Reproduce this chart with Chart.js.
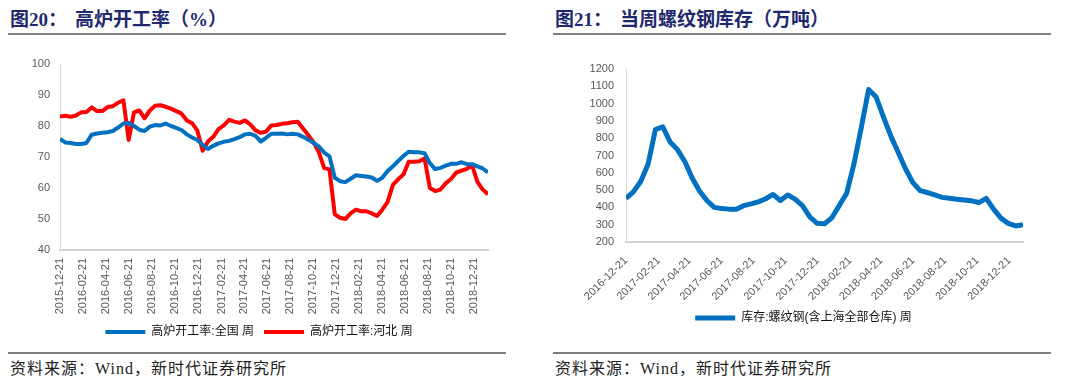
<!DOCTYPE html>
<html>
<head>
<meta charset="utf-8">
<script src="https://cdn.jsdelivr.net/npm/chart.js@4.4.0/dist/chart.umd.min.js"></script>
<style>
body { margin: 0; background: #fff; width: 1080px; height: 388px; position: relative; overflow: hidden; }
.title { position: absolute; top: 10px; font-family: "Liberation Serif", "Noto Sans CJK SC", serif; font-weight: 700; font-size: 19px; line-height: 20px; color: #1f2a6e; white-space: nowrap; }
.title span { margin-left: 8px; }
.rule { position: absolute; height: 2px; background: #808080; }
.src { position: absolute; top: 360px; font-family: "Liberation Serif", "Noto Sans CJK SC", serif; font-size: 16px; line-height: 18px; color: #222; letter-spacing: 1px; white-space: nowrap; }
canvas { position: absolute; }
</style>
</head>
<body>
<div class="title" style="left:10px">图20：<span>高炉开工率（%）</span></div>
<div class="rule" style="left:8px; width:498px; top:33px"></div>
<div class="title" style="left:555px">图21：<span>当周螺纹钢库存（万吨）</span></div>
<div class="rule" style="left:553px; width:498px; top:33px"></div>

<canvas id="gaoluChart" width="540" height="304" style="left:0; top:44px"></canvas>
<canvas id="kucunChart" width="540" height="290" style="left:540px; top:44px"></canvas>

<div class="rule" style="left:8px; width:498px; top:352px"></div>
<div class="rule" style="left:553px; width:498px; top:352px"></div>
<div class="src" style="left:10px">资料来源：Wind，新时代证券研究所</div>
<div class="src" style="left:555px">资料来源：Wind，新时代证券研究所</div>

<script>
// 每两周取一个点（周数据读图估计）
var stepWeeks = 2;

// 图20 高炉开工率
var gaoluStart = '2015-12-21';
var gaoluTicks = ['2015-12-21', '2016-02-21', '2016-04-21', '2016-06-21', '2016-08-21', '2016-10-21', '2016-12-21',
    '2017-02-21', '2017-04-21', '2017-06-21', '2017-08-21', '2017-10-21', '2017-12-21',
    '2018-02-21', '2018-04-21', '2018-06-21', '2018-08-21', '2018-10-21', '2018-12-21'];
var quanguo = [75.8, 74.7, 74.5, 74.2, 74.2, 74.5, 77.2, 77.6, 77.8, 78.0,
    78.4, 79.5, 80.8, 81.0, 80.0, 78.8, 78.4, 79.8, 80.3, 80.2,
    80.8, 80.0, 79.4, 78.7, 77.3, 76.3, 75.5, 73.9, 72.6, 73.6,
    74.4, 74.9, 75.2, 75.8, 76.4, 77.3, 77.5, 76.8, 75.0, 76.2,
    77.5, 77.5, 77.6, 77.3, 77.5, 77.3, 76.5, 75.6, 74.5, 73.4,
    71.4, 70.2, 63.3, 62.2, 61.9, 63.0, 64.1, 63.9, 63.7, 63.4,
    62.3, 63.3, 65.5, 67.0, 68.7, 70.3, 71.7, 71.5, 71.5, 71.2,
    68.0, 66.1, 66.5, 67.2, 67.8, 67.8, 68.3, 67.7, 67.7, 67.0,
    66.3, 65.0];
var hebei = [83.1, 83.3, 83.0, 83.4, 84.4, 84.5, 86.0, 84.8, 84.8, 86.1,
    86.4, 87.5, 88.3, 75.5, 84.4, 85.0, 82.5, 85.0, 86.5, 86.7,
    86.2, 85.6, 84.8, 84.0, 81.8, 80.9, 78.5, 72.0, 75.0, 76.5,
    79.0, 80.2, 82.0, 81.4, 81.0, 81.8, 80.5, 78.6, 77.8, 78.2,
    80.2, 80.3, 80.7, 80.9, 81.2, 81.4, 79.2, 77.0, 74.7, 71.5,
    66.4, 66.0, 51.5, 50.4, 50.0, 51.8, 53.0, 52.5, 52.5, 51.8,
    51.0, 53.0, 55.5, 61.0, 62.8, 64.4, 68.5, 68.5, 68.6, 69.5,
    60.0, 59.0, 59.5, 61.5, 62.9, 65.0, 65.6, 66.2, 67.3, 62.0,
    59.5, 58.0];

// 图21 螺纹钢库存
var kucunStart = '2016-12-21';
var kucunTicks = ['2016-12-21', '2017-02-21', '2017-04-21', '2017-06-21', '2017-08-21', '2017-10-21', '2017-12-21',
    '2018-02-21', '2018-04-21', '2018-06-21', '2018-08-21', '2018-10-21', '2018-12-21'];
var luowengang = [452, 490, 550, 650, 850, 866, 778, 734, 665, 570,
    495, 440, 400, 393, 390, 389, 410, 420, 432, 450,
    475, 440, 472, 448, 410, 345, 308, 305, 340, 410,
    480, 650, 860, 1082, 1040, 925, 815, 720, 625, 545,
    497, 486, 472, 458, 453, 447, 443, 438, 428, 452,
    390, 338, 307, 293, 300];

Chart.defaults.font.family = '"Liberation Sans", "Noto Sans CJK SC", sans-serif';
Chart.defaults.animation = false;

function semanas(desde, hasta) {
    return (Date.parse(hasta) - Date.parse(desde)) / 864e5 / 7;
}

function puntos(valores) {
    return valores.map(function (v, i) { return { x: i * stepWeeks, y: v }; });
}

function serie(label, valores, color, grosor) {
    return {
        label: label,
        data: puntos(valores),
        borderColor: color,
        backgroundColor: color,
        borderWidth: grosor,
        pointRadius: 0,
        pointHoverRadius: 0,
        pointBorderWidth: grosor,
        borderJoinStyle: 'round',
        tension: 0,
        fill: false
    };
}

function ejeFechas(inicio, etiquetas, maxSemanas, rot, alto, sep) {
    return {
        type: 'linear',
        min: 0,
        max: maxSemanas,
        grid: { display: false, drawTicks: false },
        border: { display: true, color: '#d4d4d4', width: 2 },
        afterBuildTicks: function (axis) {
            axis.ticks = etiquetas.map(function (l) { return { value: semanas(inicio, l) }; });
        },
        afterFit: function (s) { s.height = alto; },
        ticks: {
            autoSkip: false,
            minRotation: rot,
            maxRotation: rot,
            color: '#595959',
            font: { size: 11 },
            padding: sep,
            callback: function (v, i) { return etiquetas[i]; }
        }
    };
}

function ejeValores(min, max, paso, ancho, sep) {
    return {
        min: min,
        max: max,
        grid: { display: false, drawTicks: false },
        border: { display: true, color: '#d9d9d9', width: 1 },
        afterFit: function (s) { s.width = ancho; },
        ticks: {
            stepSize: paso,
            color: '#595959',
            font: { size: 11 },
            padding: sep,
            callback: function (v) { return String(v); }
        }
    };
}

var leyenda = {
    position: 'bottom',
    labels: {
        usePointStyle: true,
        pointStyle: 'line',
        pointStyleWidth: 40,
        boxHeight: 12,
        color: '#111',
        font: { size: 12 },
        padding: 10
    }
};

var gaoluChart = new Chart(document.getElementById('gaoluChart').getContext('2d'), {
    type: 'line',
    data: {
        datasets: [
            serie('高炉开工率:全国 周', quanguo, '#0070c0', 4),
            serie('高炉开工率:河北 周', hebei, '#ff0000', 4)
        ]
    },
    options: {
        responsive: false,
        layout: { padding: { top: 20, right: 52, left: 30, bottom: 0 } },
        scales: {
            x: ejeFechas(gaoluStart, gaoluTicks, (quanguo.length - 1) * stepWeeks, 90, 66, 8),
            y: ejeValores(40, 100, 10, 30, 10)
        },
        plugins: { legend: leyenda, tooltip: { enabled: false } }
    }
});

var kucunChart = new Chart(document.getElementById('kucunChart').getContext('2d'), {
    type: 'line',
    data: {
        datasets: [
            serie('库存:螺纹钢(含上海全部仓库) 周', luowengang, '#0070c0', 5)
        ]
    },
    options: {
        responsive: false,
        layout: { padding: { top: 25, right: 57, left: 44, bottom: 0 } },
        scales: {
            x: ejeFechas(kucunStart, kucunTicks, (luowengang.length - 1) * stepWeeks, 45, 60, 12),
            y: ejeValores(200, 1200, 100, 42, 12)
        },
        plugins: { legend: leyenda, tooltip: { enabled: false } }
    }
});
</script>
</body>
</html>
